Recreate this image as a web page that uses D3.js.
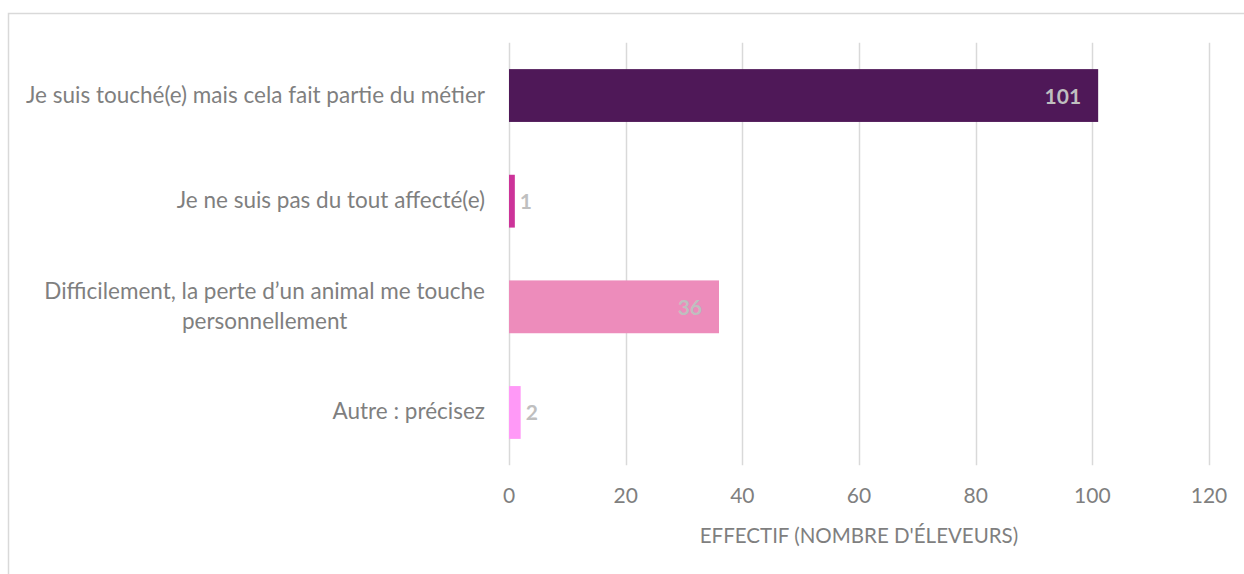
<!DOCTYPE html>
<html>
<head>
<meta charset="utf-8">
<script src="https://cdn.jsdelivr.net/npm/d3@7"></script>
<style>
  body { margin: 0; background: #fff; }
  svg { display: block; font-family: Lato, "Open Sans", sans-serif; }
</style>
</head>
<body>
<svg id="chart" width="1244" height="574"></svg>
<script>
// categories (top to bottom), "\n" marks a line break in the label
const categories = [
  "Je suis touché(e) mais cela fait partie du métier",
  "Je ne suis pas du tout affecté(e)",
  "Difficilement, la perte d\u2019un animal me touche\npersonnellement",
  "Autre : précisez"
];
const values = [101, 1, 36, 2];
const barColors = ["#4f1858", "#cc3399", "#ed8cbb", "#ff99f7"];
const ticks = [0, 20, 40, 60, 80, 100, 120];
const axisTitle = "EFFECTIF (NOMBRE D'ÉLEVEURS)";

const svg = d3.select("#chart");
const textColor = "#7f7f7f";
const gridColor = "#d9d9d9";

// chart frame (only top and left edges are inside the window)
svg.append("rect")
  .attr("x", 8.5).attr("y", 13.5)
  .attr("width", 1300).attr("height", 600)
  .attr("fill", "none")
  .attr("stroke", gridColor)
  .attr("stroke-width", 1.5);

const x = d3.scaleLinear().domain([0, 120]).range([509, 1209]);
const y = d3.scaleBand()
  .domain(categories)
  .range([42.7, 465.3])
  .paddingInner(0.5)
  .paddingOuter(0.25);

// vertical gridlines
svg.append("g")
  .selectAll("line")
  .data(ticks)
  .join("line")
  .attr("x1", d => Math.round(x(d)) + 0.5)
  .attr("x2", d => Math.round(x(d)) + 0.5)
  .attr("y1", 42.7)
  .attr("y2", 465.3)
  .attr("stroke", gridColor)
  .attr("stroke-width", 1.5);

// tick labels
svg.append("g")
  .selectAll("text")
  .data(ticks)
  .join("text")
  .attr("x", d => x(d))
  .attr("y", 503)
  .attr("text-anchor", "middle")
  .attr("fill", textColor)
  .attr("font-size", 21)
  .text(d => d);

// axis title
svg.append("text")
  .attr("x", (x(0) + x(120)) / 2)
  .attr("y", 543)
  .attr("text-anchor", "middle")
  .attr("fill", textColor)
  .attr("font-size", 20.5)
  .text(axisTitle);

// bars
svg.append("g")
  .selectAll("rect")
  .data(values)
  .join("rect")
  .attr("x", x(0))
  .attr("y", (d, i) => y(categories[i]))
  .attr("width", d => x(d) - x(0))
  .attr("height", y.bandwidth())
  .attr("fill", (d, i) => barColors[i]);

// value labels: inside the bar end when it fits, otherwise just outside
svg.append("g")
  .selectAll("text")
  .data(values)
  .join("text")
  .attr("y", (d, i) => y(categories[i]) + y.bandwidth() / 2 + 8)
  .attr("fill", "#bfbfbf")
  .attr("font-size", 21)
  .attr("font-weight", "bold")
  .text(d => d)
  .each(function(d) {
    const w = x(d) - x(0);
    const t = d3.select(this);
    if (w > 60) {
      t.attr("x", x(d) - 17).attr("text-anchor", "end");
    } else {
      t.attr("x", x(d) + 5).attr("text-anchor", "start");
    }
  });

// category labels, right aligned, multi-line blocks centered on themselves
const labelRight = 485;
const lineHeight = 30;
categories.forEach(cat => {
  const lines = cat.split("\n");
  const cy = y(cat) + y.bandwidth() / 2;
  const g = svg.append("g");
  const texts = lines.map((line, k) => g.append("text")
    .attr("y", cy + 7 + (k - (lines.length - 1) / 2) * lineHeight)
    .attr("fill", textColor)
    .attr("font-size", 22.5)
    .text(line));
  const widths = texts.map(t => t.node().getComputedTextLength());
  const maxW = d3.max(widths);
  texts.forEach(t => {
    t.attr("x", labelRight - maxW / 2).attr("text-anchor", "middle");
  });
});
</script>
</body>
</html>
